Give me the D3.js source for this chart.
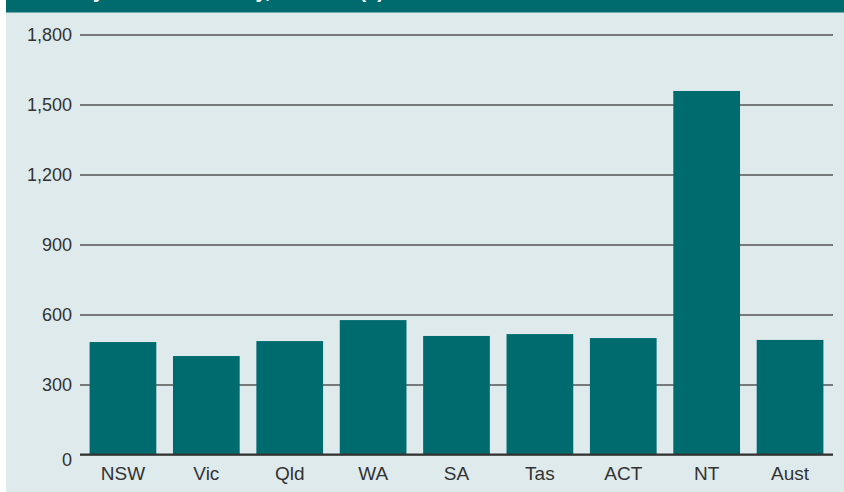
<!DOCTYPE html>
<html>
<head>
<meta charset="utf-8">
<script src="https://cdn.jsdelivr.net/npm/d3@7"></script>
<style>
  html, body { margin: 0; padding: 0; background: #ffffff; }
  svg { display: block; }
</style>
</head>
<body>
<svg id="chart" width="844" height="492"></svg>
<script>
// Amount per person by jurisdiction ($)
const categories = ["NSW", "Vic", "Qld", "WA", "SA", "Tas", "ACT", "NT", "Aust"];
const values = [482, 422, 486, 576, 508, 516, 499, 1558, 491];
const yTicks = [0, 300, 600, 900, 1200, 1500, 1800];
const title = "Rate by State or territory, 2005–06 ($)";

const W = 844, H = 492;
const teal = "#006b6e";
const svg = d3.select("#chart");

// panel background and header band
svg.append("rect").attr("x", 6).attr("y", 0).attr("width", W - 6).attr("height", H)
  .attr("fill", "#deeaec");
svg.append("rect").attr("x", 6).attr("y", 0).attr("width", W - 6).attr("height", 12.5)
  .attr("fill", teal);
// header title runs above the top edge, only its lowest strokes show
svg.append("text").attr("x", 32).attr("y", -2)
  .attr("fill", "#ffffff")
  .attr("font-family", "'Liberation Sans', Arial, sans-serif")
  .attr("font-weight", "bold").attr("font-size", 20)
  .text(title);

const plot = { left: 80, right: 833, top: 34.5, bottom: 454.5 };

const x = d3.scaleBand().domain(categories)
  .range([plot.left, plot.right])
  .paddingInner(0.2).paddingOuter(0.115);

const y = d3.scaleLinear().domain([0, 1800]).range([plot.bottom, plot.top]);

// gridlines with tick labels
const yAxis = d3.axisLeft(y).tickValues(yTicks)
  .tickSize(-(plot.right - plot.left)).tickPadding(8)
  .tickFormat(d3.format(","));
const gy = svg.append("g").attr("transform", `translate(${plot.left},0)`).call(yAxis);
gy.select(".domain").remove();
gy.selectAll(".tick line").attr("stroke", "#555").attr("stroke-width", 1.5);
gy.selectAll(".tick text")
  .attr("fill", "#333")
  .attr("font-family", "'Liberation Sans', Arial, sans-serif")
  .attr("font-size", 18)
  .attr("dy", "0.36em");
gy.selectAll(".tick").filter(d => d === 0).select("text").attr("dy", "0.6em");

// bars
svg.append("g").selectAll("rect").data(categories).join("rect")
  .attr("x", d => x(d))
  .attr("width", x.bandwidth())
  .attr("y", (d, i) => y(values[i]))
  .attr("height", (d, i) => y(0) - y(values[i]))
  .attr("fill", teal);

// baseline
svg.append("line")
  .attr("x1", plot.left).attr("x2", plot.right)
  .attr("y1", y(0)).attr("y2", y(0))
  .attr("stroke", "#333").attr("stroke-width", 2);

// category labels
const xAxis = d3.axisBottom(x).tickSize(0).tickPadding(12);
const gx = svg.append("g").attr("transform", `translate(0,${y(0)})`).call(xAxis);
gx.select(".domain").remove();
gx.selectAll(".tick text")
  .attr("fill", "#333")
  .attr("font-family", "'Liberation Sans Narrow', 'Liberation Sans', Arial, sans-serif")
  .attr("font-size", 19);
</script>
</body>
</html>
